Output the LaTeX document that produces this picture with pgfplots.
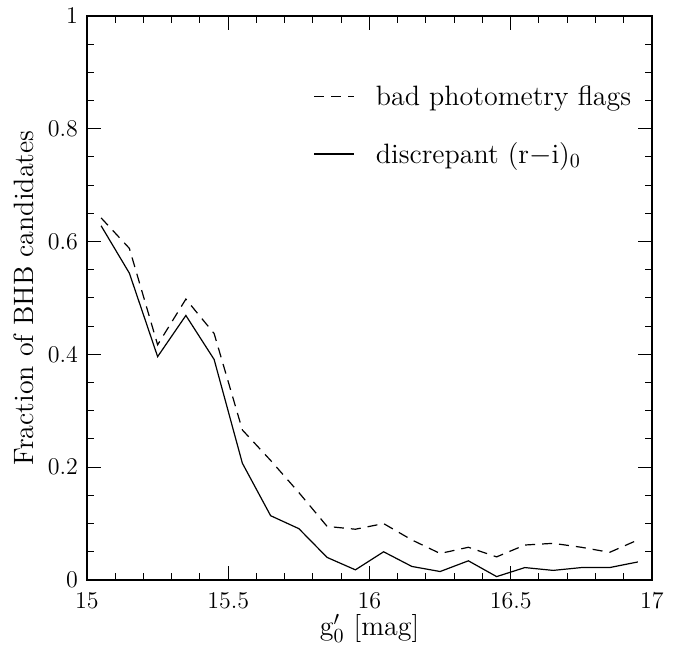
\documentclass[border=0pt]{standalone}
\usepackage{pgfplots}
\pgfplotsset{compat=1.18}
\newcommand{\lblfont}{\fontsize{14}{16.8}\selectfont}

\begin{document}
\begin{tikzpicture}
\useasboundingbox (-43.5pt,-33pt) rectangle (297.5pt,290pt);
\begin{axis}[
  scale only axis,
  width=282.5pt, height=282pt,
  xmin=15, xmax=17, ymin=0, ymax=1,
  xtick={15,15.5,16,16.5,17},
  ytick={0,0.2,0.4,0.6,0.8,1},
  minor x tick num=4,
  minor y tick num=3,
  tick align=inside,
  major tick length=6.8pt,
  minor tick length=3.5pt,
  axis line style={line width=0.6pt},
  every tick/.style={black, line width=0.5pt},
  tick label style={font=\large},
  xticklabel style={yshift=-3pt},
  yticklabel style={xshift=-1pt},
  xlabel={\lblfont g$'_{\mathrm{0}}$ [mag]},
  ylabel={\lblfont Fraction of BHB candidates},
  xlabel style={yshift=4pt},
  ylabel style={yshift=0pt},
  legend style={draw=none, fill=none, at={(axis description cs:0.39,0.892)},
    anchor=north west, font=\lblfont, row sep=13pt,
    legend cell align=left},
  legend image code/.code={\draw[#1] (0pt,0pt) -- (20pt,0pt);},
]
\addplot[black, line width=0.6pt, dash pattern=on 5pt off 3.5pt] coordinates {
  (15.05,0.642) (15.15,0.588) (15.25,0.417) (15.35,0.498) (15.45,0.437)
  (15.55,0.266) (15.65,0.212) (15.75,0.155) (15.85,0.095) (15.95,0.090)
  (16.05,0.100) (16.15,0.071) (16.25,0.047) (16.35,0.058) (16.45,0.041)
  (16.55,0.062) (16.65,0.065) (16.75,0.058) (16.85,0.049) (16.95,0.071)
};
\addlegendentry{\hspace{8.5pt}bad photometry flags}
\addplot[black, line width=0.6pt] coordinates {
  (15.05,0.628) (15.15,0.544) (15.25,0.396) (15.35,0.469) (15.45,0.391)
  (15.55,0.207) (15.65,0.114) (15.75,0.091) (15.85,0.040) (15.95,0.018)
  (16.05,0.050) (16.15,0.024) (16.25,0.015) (16.35,0.034) (16.45,0.006)
  (16.55,0.022) (16.65,0.017) (16.75,0.022) (16.85,0.022) (16.95,0.032)
};
\addlegendentry{\hspace{8.5pt}discrepant (r$-$i)$_{\mathrm{0}}$}
\end{axis}
\end{tikzpicture}
\end{document}
